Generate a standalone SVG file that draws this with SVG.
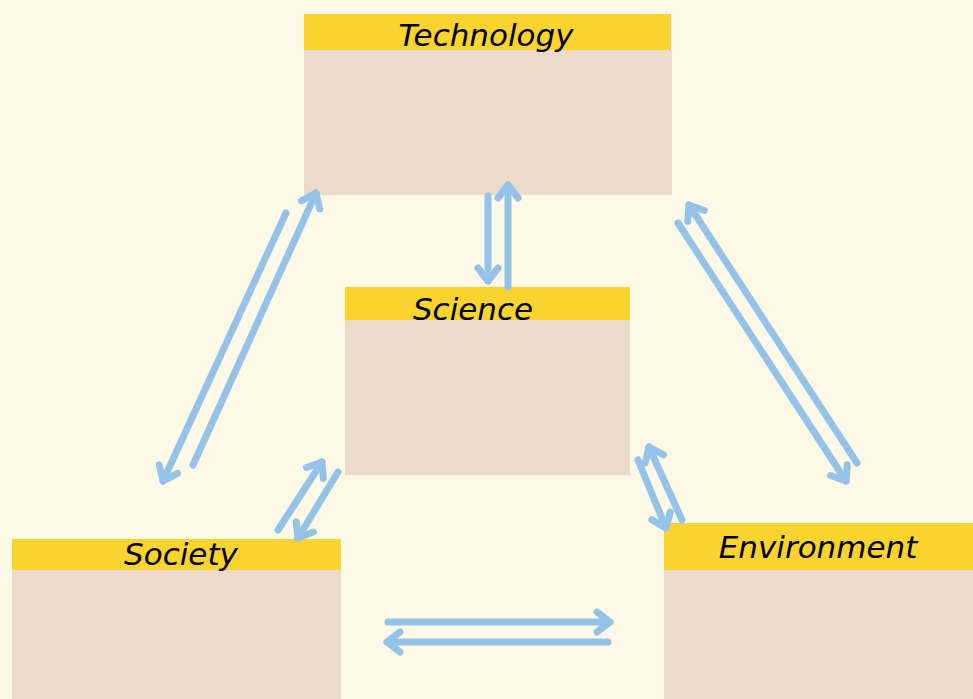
<svg xmlns="http://www.w3.org/2000/svg" width="973" height="699" viewBox="0 0 973 699">
<defs>
<style>
.hdr{fill:#F9D42E}
.body{fill:#EBDBC8}
.lbl{font-family:"DejaVu Sans","Liberation Sans",sans-serif;font-style:italic;font-size:31px;fill:#000;text-anchor:middle}
.arr{stroke:#95C3E8;stroke-width:7;fill:none;stroke-linecap:round;marker-end:url(#head)}
</style>
<marker id="head" markerUnits="userSpaceOnUse" viewBox="-18 -14 22 28" refX="0" refY="0" markerWidth="22" markerHeight="28" orient="auto">
<path d="M-13,-10 L0,0 L-13,10" fill="none" stroke="#95C3E8" stroke-width="7" stroke-linecap="round" stroke-linejoin="round"/>
</marker>
</defs>
<rect x="0" y="0" width="973" height="699" fill="#FDF9E6"/>
<g id="technology">
<rect class="body" x="304" y="50" width="368" height="145"/>
<rect class="hdr" x="304" y="14" width="367" height="36"/>
<text class="lbl" x="486" y="46">Technology</text>
</g>
<g id="science">
<rect class="body" x="345" y="320" width="285" height="155"/>
<rect class="hdr" x="345" y="287" width="285" height="33"/>
<text class="lbl" x="473" y="320">Science</text>
</g>
<g id="society">
<rect class="body" x="12" y="570" width="329" height="129"/>
<rect class="hdr" x="12" y="539" width="329" height="31"/>
<text class="lbl" x="181" y="565">Society</text>
</g>
<g id="environment">
<rect class="body" x="664" y="570" width="309" height="129"/>
<rect class="hdr" x="664" y="523" width="309" height="47"/>
<text class="lbl" x="818" y="558">Environment</text>
</g>
<g id="connectors">
<line class="arr" x1="193" y1="465" x2="316" y2="193"/>
<line class="arr" x1="286" y1="213" x2="163" y2="481"/>
<line class="arr" x1="488" y1="196" x2="488" y2="281"/>
<line class="arr" x1="508" y1="287" x2="508" y2="185"/>
<line class="arr" x1="857" y1="463" x2="689" y2="205"/>
<line class="arr" x1="678" y1="223" x2="846" y2="481"/>
<line class="arr" x1="278" y1="530" x2="322" y2="462"/>
<line class="arr" x1="338" y1="472" x2="298" y2="538"/>
<line class="arr" x1="682" y1="520" x2="649" y2="447"/>
<line class="arr" x1="638" y1="460" x2="666" y2="528"/>
<line class="arr" x1="388" y1="622" x2="610" y2="622"/>
<line class="arr" x1="608" y1="642" x2="387" y2="642"/>
</g>
</svg>
